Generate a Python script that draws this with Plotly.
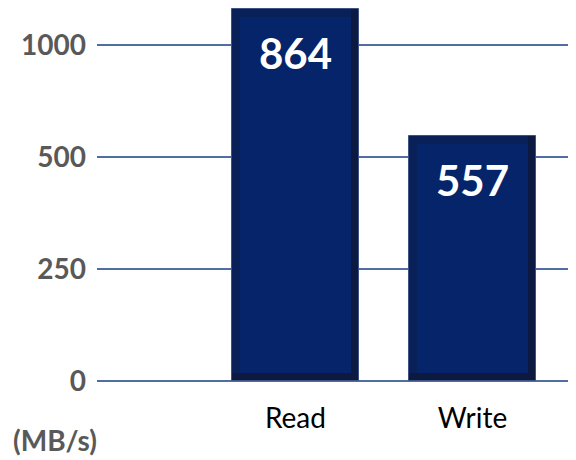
import plotly.graph_objects as go

# ---- data ----
categories = ["Read", "Write"]
values = [864, 557]                 # value labels shown on bars (MB/s)
bar_heights = [830, 547]            # drawn heights, in the chart's (non-linear) axis units
tick_positions = [0, 250, 500, 750]
tick_labels = ["0", "250", "500", "1000"]
unit_label = "(MB/s)"

# ---- style ----
FONT = "Lato"
FACE = "#06246a"
BEVEL_LT = "#0a2058"
BEVEL_RB = "#0c1a42"
EDGE = "#3e5283"
GRID = "#4f6fa0"

W = 0.72          # bar width (category units)
BX = 0.045        # bevel width horizontally
BY = 18           # bevel height vertically (axis units)

fig = go.Figure()
# outer bar (dark right/bottom bevel)
fig.add_trace(go.Bar(
    x=categories, y=bar_heights, width=W, offset=-W / 2,
    marker=dict(color=BEVEL_RB, line=dict(color=EDGE, width=1)),
    hoverinfo="skip", showlegend=False, cliponaxis=False))
# left/top bevel
fig.add_trace(go.Bar(
    x=categories, y=[h - BY for h in bar_heights], base=BY,
    width=W - BX, offset=-W / 2,
    marker=dict(color=BEVEL_LT, line=dict(width=0)),
    hoverinfo="skip", showlegend=False, cliponaxis=False))
# face
fig.add_trace(go.Bar(
    x=categories, y=[h - 2 * BY for h in bar_heights], base=BY,
    width=W - 2 * BX, offset=-W / 2 + BX,
    marker=dict(color=FACE, line=dict(width=0)),
    hoverinfo="skip", showlegend=False, cliponaxis=False))

for c, h, v in zip(categories, bar_heights, values):
    fig.add_annotation(x=c, y=h, text=f"<b>{v}</b>", showarrow=False,
                       yanchor="top", yshift=-17,
                       font=dict(family=FONT, size=42, color="white"))

fig.add_annotation(xref="paper", yref="paper", x=-0.0877, y=-0.146,
                   xanchor="center", yanchor="middle",
                   text=f"<b>{unit_label}</b>", showarrow=False,
                   font=dict(family=FONT, size=28, color="#595959"))

fig.update_layout(
    width=568, height=452,
    margin=dict(l=89, r=0, t=0, b=75),
    plot_bgcolor="white", paper_bgcolor="white",
    barmode="overlay", bargap=0,
    showlegend=False,
    font=dict(family=FONT),
)
fig.update_xaxes(
    range=[-1.121, 1.585], showgrid=False, zeroline=False, showline=False,
    tickfont=dict(family=FONT, size=28, color="black"),
    ticklabelstandoff=14, ticks="",
)
fig.update_yaxes(
    range=[-8.93, 832.6], tickvals=tick_positions, ticktext=tick_labels,
    showgrid=True, gridcolor=GRID, gridwidth=1.5,
    zeroline=True, zerolinecolor=GRID, zerolinewidth=1.5,
    showline=False, ticks="",
    tickfont=dict(family=FONT, size=28, color="#595959", weight="bold"),
    ticklabelstandoff=10,
)

fig.write_html("out.html")
